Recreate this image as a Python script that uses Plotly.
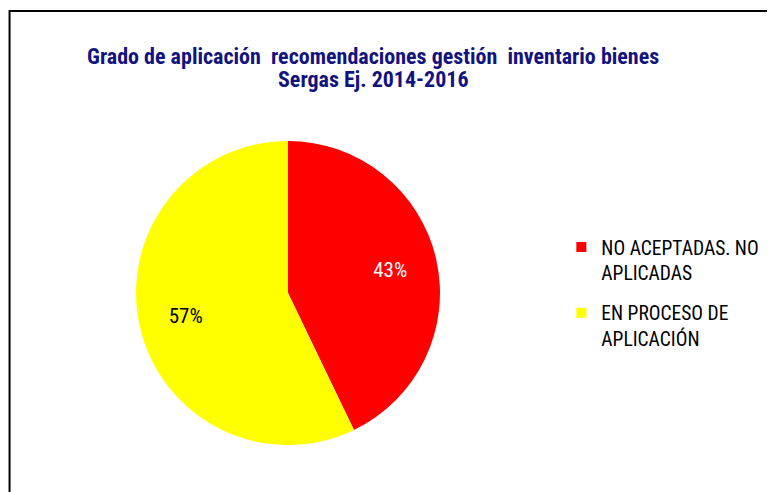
import plotly.graph_objects as go

# Datos del gráfico
categorias = ["NO ACEPTADAS. NO<br>APLICADAS", "EN PROCESO DE<br>APLICACIÓN"]
valores = [3, 4]
colores = ["#ff0000", "#ffff00"]
colores_texto = ["#ffffff", "#000000"]

titulo_lineas = ["Grado de aplicación  recomendaciones gestión  inventario bienes",
                 "Sergas Ej. 2014-2016"]

fuente = "Liberation Sans Narrow, Arial Narrow, Roboto Condensed, sans-serif"
dominio = dict(x=[0.1652, 0.5574], y=[0.1118, 0.7297])

fig = go.Figure()

# Tarta completa (sin texto)
fig.add_trace(go.Pie(
    labels=categorias,
    values=valores,
    marker=dict(colors=colores, line=dict(width=0)),
    sort=False,
    direction="clockwise",
    rotation=0,
    textinfo="none",
    domain=dominio,
    showlegend=False,
    hovertemplate="%{percent}<extra></extra>",
))

# Capa transparente con agujero solo para colocar los porcentajes más hacia fuera
fig.add_trace(go.Pie(
    labels=categorias,
    values=valores,
    hole=0.38,
    marker=dict(colors=["rgba(0,0,0,0)"] * len(valores), line=dict(width=0)),
    sort=False,
    direction="clockwise",
    rotation=0,
    texttemplate="%{percent:.0%}",
    textposition="inside",
    insidetextorientation="horizontal",
    textfont=dict(family=fuente, size=21, color=colores_texto),
    domain=dominio,
    showlegend=False,
    hoverinfo="skip",
))

# Entradas de la leyenda
for cat, col in zip(categorias, colores):
    fig.add_trace(go.Scatter(
        x=[None], y=[None], mode="markers", name=cat, legendgroup=cat,
        marker=dict(symbol="square", size=10, color=col),
    ))

anotaciones = []
for texto, ypos in zip(titulo_lineas, [0.9005, 0.8537]):
    anotaciones.append(dict(
        text="<b>" + texto + "</b>", xref="paper", yref="paper",
        x=0.471, y=ypos, xanchor="center", yanchor="middle", showarrow=False,
        font=dict(family=fuente, size=22, color="#13137f"),
    ))

fig.update_layout(
    width=775, height=492,
    margin=dict(l=0, r=0, t=0, b=0),
    paper_bgcolor="white",
    plot_bgcolor="white",
    font=dict(family=fuente),
    xaxis=dict(visible=False),
    yaxis=dict(visible=False),
    annotations=anotaciones,
    legend=dict(
        x=0.714, xanchor="left",
        y=0.553, yanchor="top",
        font=dict(family=fuente, size=19.5, color="#000000"),
        valign="top",
        tracegroupgap=12,
        bgcolor="rgba(0,0,0,0)",
    ),
    shapes=[dict(
        type="rect", xref="paper", yref="paper",
        x0=0.002, x1=1.05, y0=-0.05, y1=0.994,
        line=dict(color="black", width=2),
        fillcolor="rgba(0,0,0,0)",
    )],
)

fig.write_html("out.html")
